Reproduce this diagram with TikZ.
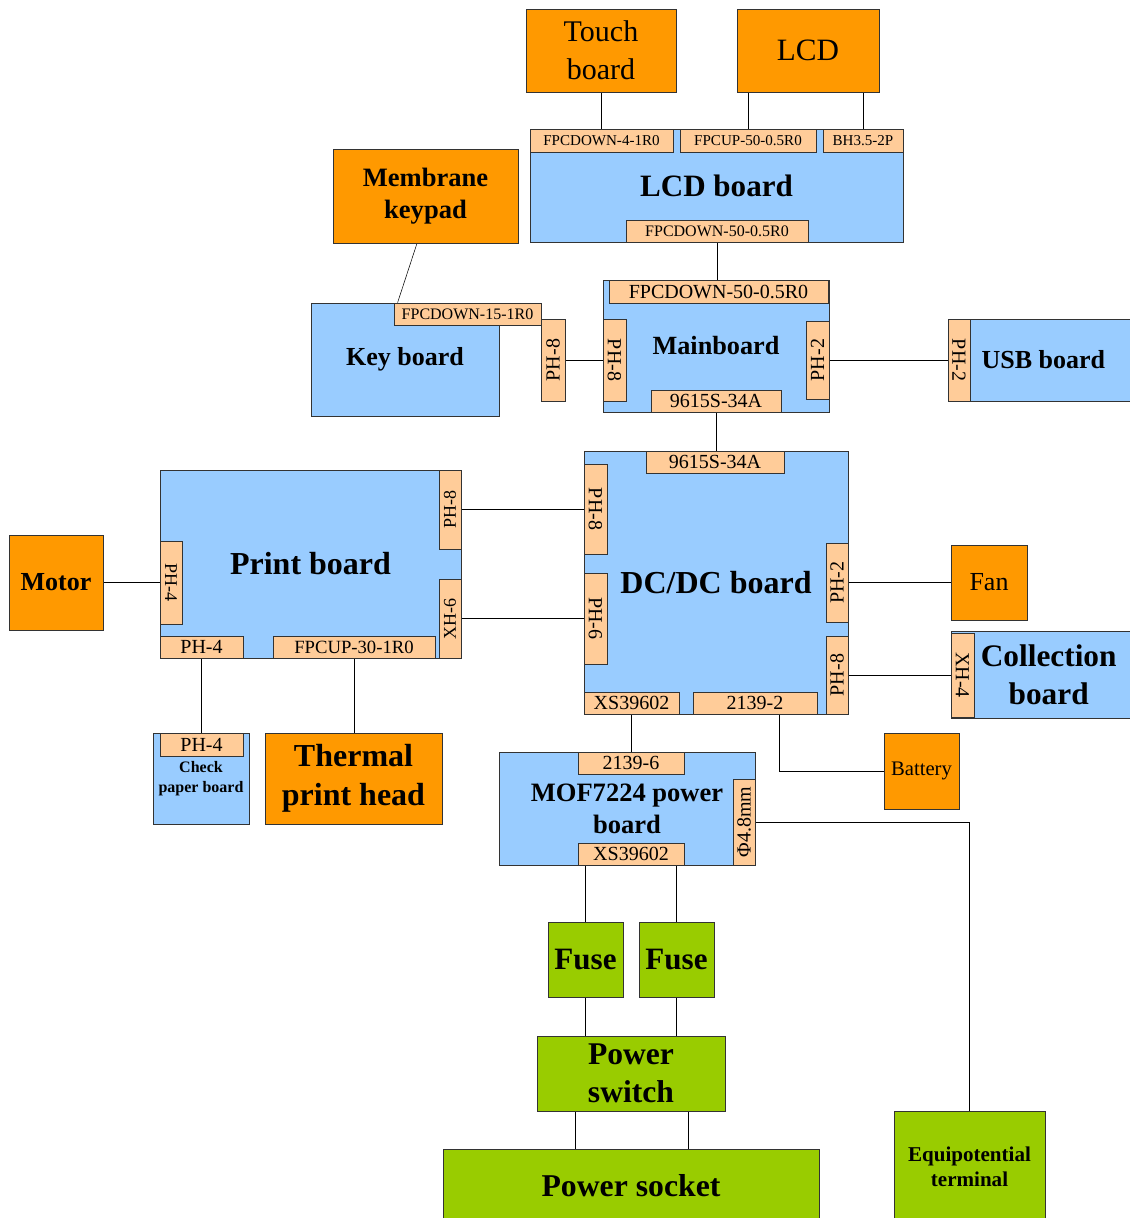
\documentclass[tikz,border=0pt]{standalone}
\usepackage{fontspec}
\setmainfont{Liberation Serif}
\usetikzlibrary{backgrounds}
\definecolor{arancio}{HTML}{FF9900}
\definecolor{azzurro}{HTML}{99CCFF}
\definecolor{pesca}{HTML}{FFCC99}
\definecolor{verde}{HTML}{99CC00}
\begin{document}
\begin{tikzpicture}[
		x=0.75pt, y=-0.75pt, line width=1.4pt,
		base/.style={draw=black!80, line width=0.6pt, inner sep=0pt, align=center},
		scheda/.style={base, fill=azzurro},
		esterno/.style={base, fill=arancio},
		conn/.style={base, fill=pesca},
		alim/.style={base, fill=verde},
		fs/.style 2 args={font=\fontsize{#1}{#2}\selectfont},
		fb/.style 2 args={font=\fontsize{#1}{#2}\selectfont\bfseries}]
	\useasboundingbox (0,0) rectangle (1130,1218);
	
	%% blocco orizzontale: nome, stile, x1, y1, x2, y2, testo
	\def\blk#1#2#3#4#5#6#7{%
		\pgfmathsetmacro{\bw}{(#5-#3)*0.75}%
		\pgfmathsetmacro{\bh}{(#6-#4)*0.75}%
		\node[#2, minimum width=\bw pt, minimum height=\bh pt] (#1)
			at ({(#3+#5)/2},{(#4+#6)/2}) {#7};}
	%% connettore verticale: nome, rotazione, x1, y1, x2, y2, testo
	\def\vblk#1#2#3#4#5#6#7{%
		\pgfmathsetmacro{\bw}{(#6-#4)*0.75}%
		\pgfmathsetmacro{\bh}{(#5-#3)*0.75}%
		\node[conn, fs={15}{17}, #2, minimum width=\bw pt, minimum height=\bh pt] (#1)
			at ({(#3+#5)/2},{(#4+#6)/2}) {#7};}
	
	%% LCD board
	\blk{touch}{esterno, fs={22.5}{28.5}}{526}{9}{676}{92}{Touch\\board}
	\blk{lcd}{esterno, fs={23.3}{28}}{737}{9}{879}{92}{LCD}
	\blk{lcdb}{scheda, fb={23.3}{28}}{530}{129}{903}{242}{LCD board}
	\blk{cdown4}{conn, fs={11.3}{13}}{530}{129}{673}{152}{FPCDOWN-4-1R0}
	\blk{cup50}{conn, fs={11.3}{13}}{680}{129}{816}{152}{FPCUP-50-0.5R0}
	\blk{cbh}{conn, fs={11.3}{13}}{823}{129}{903}{152}{BH3.5-2P}
	\blk{cdown50}{conn, fs={12}{14}}{626}{220}{808}{242}{FPCDOWN-50-0.5R0}
	
	%% Key board
	\blk{memb}{esterno, fb={19.9}{24}}{333}{149}{518}{243}{Membrane\\keypad}
	\blk{keyb}{scheda, fb={19.5}{22}}{311}{303}{499}{416}{Key board}
	\blk{cdown15}{conn, fs={12}{14}}{394}{303}{541}{325}{FPCDOWN-15-1R0}
	\vblk{kph8}{rotate=90}{541}{319}{565}{401}{PH-8}
	
	%% Mainboard
	\blk{mainb}{scheda, fb={19.7}{22}}{603}{280}{829}{412}{Mainboard}
	\blk{mdown50}{conn, fs={15}{17}}{609}{280}{828}{303}{FPCDOWN-50-0.5R0}
	\vblk{mph8}{rotate=-90}{603}{319}{626}{401}{PH-8}
	\vblk{mph2}{rotate=90}{806}{321}{829}{399}{PH-2}
	\blk{m34a}{conn, fs={15}{17}}{651}{390}{781}{412}{9615S-34A}
	
	%% USB board
	\blk{usb}{scheda, fb={19.5}{23}}{948}{319}{1136}{401}{\hspace*{2pt}USB board}
	\vblk{uph2}{rotate=-90}{948}{319}{970}{401}{PH-2}
	
	%% DC/DC board
	\blk{dcdc}{scheda, fb={24}{28}}{584}{451}{848}{714}{DC/DC board}
	\blk{d34a}{conn, fs={15}{17}}{646}{451}{784}{473}{9615S-34A}
	\vblk{dph8}{rotate=-90}{584}{464}{607}{554}{PH-8}
	\vblk{dph6}{rotate=-90}{584}{573}{607}{664}{PH-6}
	\vblk{dph2}{rotate=90}{826}{543}{848}{622}{PH-2}
	\vblk{dph8r}{rotate=90}{826}{636}{848}{714}{PH-8}
	\blk{dxs}{conn, fs={15}{17}}{584}{692}{679}{714}{XS39602}
	\blk{d21}{conn, fs={15}{17}}{693}{692}{817}{714}{2139-2}
	
	%% Print board
	\blk{printb}{scheda, fb={24}{28}}{160}{470}{461}{658}{Print board}
	\vblk{pph8}{rotate=90, fs={13.5}{15}}{439}{470}{461}{549}{PH-8}
	\vblk{pxh6}{rotate=90, fs={13.5}{15}}{439}{579}{461}{658}{XH-6}
	\vblk{pph4l}{rotate=-90, fs={13.5}{15}}{160}{541}{182}{624}{PH-4}
	\blk{pph4b}{conn, fs={15}{17}}{160}{636}{243}{658}{PH-4}
	\blk{pfpc}{conn, fs={14}{16}}{273}{636}{435}{658}{FPCUP-30-1R0}
	\blk{motor}{esterno, fb={19.5}{23}}{9}{535}{103}{630}{Motor}
	\blk{check}{scheda, fb={12}{15}}{153}{733}{249}{824}{Check\\paper board}
	\blk{cph4}{conn, fs={15}{17}}{160}{733}{243}{756}{PH-4}
	\blk{thermal}{esterno, fb={24}{29.3}}{265}{733}{442}{824}{Thermal\\print head}
	
	%% periferiche DC/DC
	\blk{fan}{esterno, fs={19.5}{22}}{951}{545}{1027}{620}{Fan}
	\blk{coll}{scheda, fb={23.5}{28.5}}{951}{631}{1141}{718}{\hspace*{4pt}Collection\\\hspace*{4pt}board}
	\vblk{cxh4}{rotate=-90}{951}{633}{974}{717}{XH-4}
	\blk{batt}{esterno, fs={15.5}{17}}{884}{733}{959}{809}{Battery}
	
	%% alimentazione
	\blk{mof}{scheda, fb={19.9}{24}}{499}{752}{755}{865}{MOF7224 power\\board}
	\blk{m26}{conn, fs={15}{17}}{578}{752}{684}{774}{2139-6}
	\blk{mxs}{conn, fs={15}{17}}{578}{843}{684}{865}{XS39602}
	\vblk{mphi}{rotate=90}{733}{779}{755}{865}{Φ4.8mm}
	\blk{fuseA}{alim, fb={23.3}{28}}{548}{922}{623}{997}{Fuse}
	\blk{fuseB}{alim, fb={23.3}{28}}{639}{922}{714}{997}{Fuse}
	\blk{pswitch}{alim, fb={23.7}{28.5}}{537}{1036}{725}{1111}{Power\\switch}
	\blk{psocket}{alim, fb={23.8}{26}}{443}{1149}{819}{1222}{Power socket}
	\blk{equi}{alim, fb={15.8}{19}}{894}{1111}{1045}{1222}{Equipotential\\terminal}
	
	%% punti liberi dei collegamenti
	\coordinate (membOut) at ([xshift=-6.4pt]memb.south);
	\coordinate (keyIn) at ([xshift=3pt]cdown15.north west);
	\coordinate (battOut) at ([xshift=18pt]d21.center);
	\coordinate (swA) at ([xshift=-42pt]pswitch.center);
	\coordinate (swB) at ([xshift=42.75pt]pswitch.center);
	
	%% collegamenti
	\begin{scope}[on background layer]
		\draw (touch.center) -- (touch.center |- cdown4.center);
		\draw (cup50.center) -- (cup50.center |- lcd.center);
		\draw (cbh.center) -- (cbh.center |- lcd.center);
		\draw (cdown50.center) -- (cdown50.center |- mdown50.center);
		\draw (membOut) -- (keyIn);
		\draw (kph8.center) -- (mph8.center);
		\draw (mph2.center) -- (uph2.center);
		\draw (m34a.center) -- (m34a.center |- d34a.center);
		\draw (pph8.center) -- (pph8.center -| dph8.center);
		\draw (pxh6.center) -- (pxh6.center -| dph6.center);
		\draw (motor.center) -- (motor.center -| pph4l.center);
		\draw (pph4b.center) -- (pph4b.center |- cph4.center);
		\draw (pfpc.center) -- (pfpc.center |- thermal.center);
		\draw (dph2.center) -- (dph2.center -| fan.center);
		\draw (dph8r.center) -- (dph8r.center -| cxh4.center);
		\draw (battOut) |- (batt.center);
		\draw (dxs.center) -- (dxs.center |- m26.center);
		\draw (fuseA.center) -- (fuseA.center |- mxs.center);
		\draw (fuseB.center) -- (fuseB.center |- mxs.center);
		\draw (fuseA.center) -- (fuseA.center |- pswitch.center);
		\draw (fuseB.center) -- (fuseB.center |- pswitch.center);
		\draw (swA) -- (swA |- psocket.center);
		\draw (swB) -- (swB |- psocket.center);
		\draw (mphi.center) -| (equi.center);
	\end{scope}
\end{tikzpicture}
\end{document}
